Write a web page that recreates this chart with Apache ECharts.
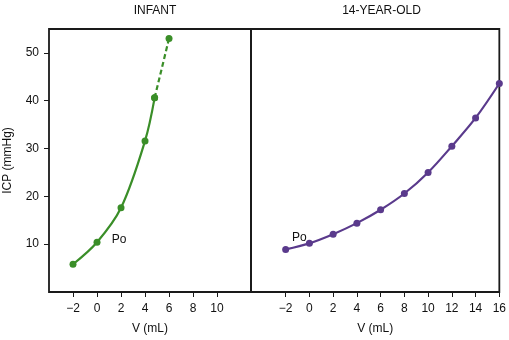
<!DOCTYPE html>
<html>
<head>
<meta charset="utf-8">
<style>
  html, body { margin: 0; padding: 0; background: #fff; }
  #chart { width: 509px; height: 340px; }
</style>
<script src="https://cdn.jsdelivr.net/npm/echarts@6/dist/echarts.min.js"></script>
</head>
<body>
<div id="chart"></div>
<script>
// Volume (mL) and ICP (mmHg) readings
const infantV = [-2, 0, 2, 4, 4.8];
const infantICP = [5.8, 10.4, 17.6, 31.6, 40.6];
const infantExtrapV = [4.8, 6];
const infantExtrapICP = [40.6, 53.0];

const teenV = [-2, 0, 2, 4, 6, 8, 10, 12, 14, 16];
const teenICP = [8.9, 10.2, 12.1, 14.4, 17.2, 20.6, 25.0, 30.5, 36.4, 43.6];

const infantTicks = [-2, 0, 2, 4, 6, 8, 10];
const teenTicks = [-2, 0, 2, 4, 6, 8, 10, 12, 14, 16];
const icpTicks = [10, 20, 30, 40, 50];
const panelTitles = ['INFANT', '14-YEAR-OLD'];

const FONT = '"Liberation Sans", Arial, sans-serif';
const GREEN = '#3a8e28';
const PURPLE = '#5a3a8c';
const INK = '#1a1a1a';

const pairs = (xs, ys) => xs.map((x, i) => [x, ys[i]]);
const fmt = v => (v < 0 ? '\u2212' + Math.abs(v) : String(v));

// Mark the resting-pressure point (V = 0) with a "Po" label
function withPo(xs, ys, offset) {
  return pairs(xs, ys).map(p => p[0] === 0
    ? { value: p, label: { show: true, position: 'inside', offset: offset, formatter: 'Po',
        color: '#111', fontSize: 12, fontFamily: FONT } }
    : p);
}

function xAxis(gridIndex, min, max, ticks) {
  return {
    type: 'value', gridIndex, min, max,
    axisLine: { show: false, onZero: false },
    splitLine: { show: false },
    axisTick: { show: true, inside: false, length: 5, customValues: ticks,
      lineStyle: { color: INK, width: 1 } },
    axisLabel: { show: true, customValues: ticks, formatter: fmt, margin: 11,
      color: '#111', fontSize: 12, fontFamily: FONT },
    name: 'V (mL)', nameLocation: 'middle', nameGap: 31,
    nameTextStyle: { color: '#111', fontSize: 12, fontFamily: FONT }
  };
}

function yAxis(gridIndex, showLabels) {
  return {
    type: 'value', gridIndex, min: 0, max: 55,
    axisLine: { show: false, onZero: false },
    splitLine: { show: false },
    axisTick: { show: showLabels, length: 5, customValues: icpTicks,
      lineStyle: { color: INK, width: 1 } },
    axisLabel: { show: showLabels, customValues: icpTicks, margin: 10,
      color: '#111', fontSize: 12, fontFamily: FONT },
    name: showLabels ? 'ICP (mmHg)' : '', nameLocation: 'middle', nameGap: 35,
    nameTextStyle: { color: '#111', fontSize: 12, fontFamily: FONT }
  };
}

const frame = { show: true, borderColor: INK, borderWidth: 1.8, backgroundColor: 'transparent' };

const chart = echarts.init(document.getElementById('chart'), null, { renderer: 'canvas' });
chart.setOption({
  animation: false,
  backgroundColor: '#fff',
  title: [
    { text: panelTitles[0], left: 150, top: 0, textAlign: 'center',
      textStyle: { fontSize: 12, fontWeight: 'normal', color: '#111', fontFamily: FONT } },
    { text: panelTitles[1], left: 376.5, top: 0, textAlign: 'center',
      textStyle: { fontSize: 12, fontWeight: 'normal', color: '#111', fontFamily: FONT } }
  ],
  grid: [
    Object.assign({ left: 49, top: 29, width: 202, height: 266 }, frame),
    Object.assign({ left: 251, top: 29, width: 251, height: 266 }, frame)
  ],
  xAxis: [
    xAxis(0, -4, 12.83, infantTicks),
    xAxis(1, -4.92, 16, teenTicks)
  ],
  yAxis: [yAxis(0, true), yAxis(1, false)],
  series: [
    {
      type: 'line', xAxisIndex: 0, yAxisIndex: 0, clip: false,
      data: withPo(infantV, infantICP, [22, -3]),
      smooth: 0.35, symbol: 'circle', symbolSize: 7,
      lineStyle: { color: GREEN, width: 2.2 },
      itemStyle: { color: GREEN }
    },
    {
      type: 'line', xAxisIndex: 0, yAxisIndex: 0, clip: false,
      data: pairs(infantExtrapV, infantExtrapICP),
      symbol: 'circle', symbolSize: 7,
      lineStyle: { color: GREEN, width: 2.2, type: [5, 3] },
      itemStyle: { color: GREEN }
    },
    {
      type: 'line', xAxisIndex: 1, yAxisIndex: 1, clip: false,
      data: withPo(teenV, teenICP, [-10, -6]),
      smooth: 0.35, symbol: 'circle', symbolSize: 7,
      lineStyle: { color: PURPLE, width: 2.2 },
      itemStyle: { color: PURPLE }
    }
  ]
});
</script>
</body>
</html>
